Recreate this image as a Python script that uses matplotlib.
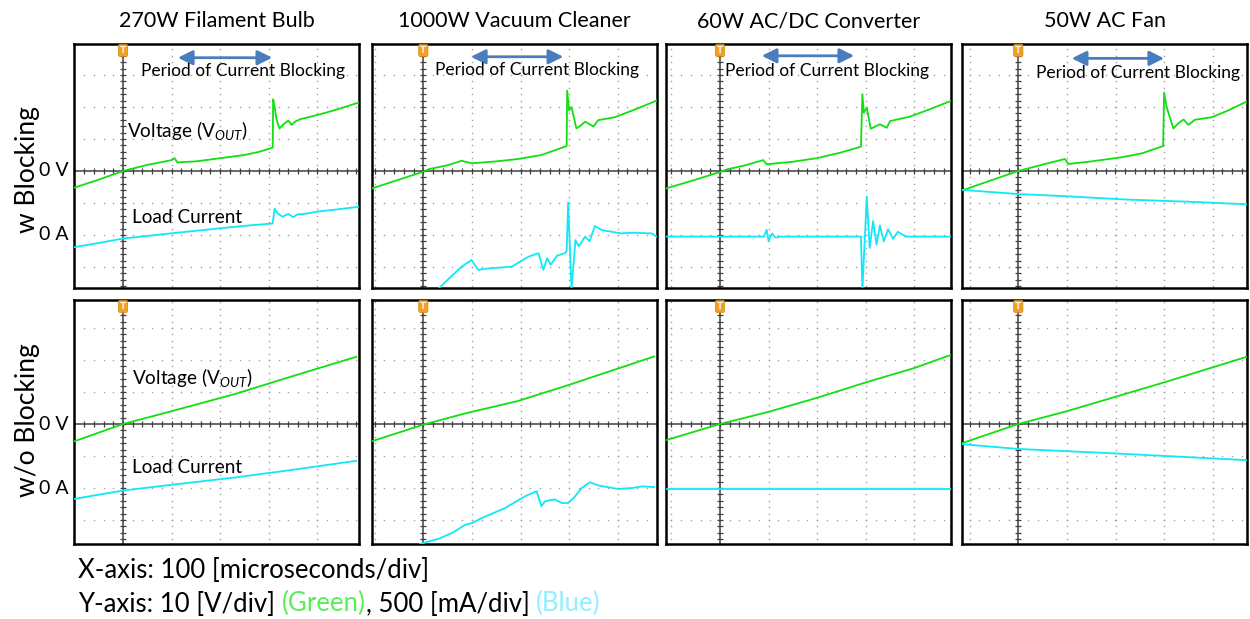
import numpy as np
import matplotlib
matplotlib.use("Agg")
import matplotlib.pyplot as plt
import matplotlib.transforms as mtransforms

plt.rcParams['font.family'] = ['Lato', 'DejaVu Sans']
plt.rcParams['mathtext.fontset'] = 'custom'
plt.rcParams['mathtext.rm'] = 'Lato'
plt.rcParams['mathtext.it'] = 'Lato:italic'

# === Scope captures, in divisions (x: 100 us/div, y: 10 V/div or 500 mA/div) ===
titles = ["270W Filament Bulb", "1000W Vacuum Cleaner", "60W AC/DC Converter", "50W AC Fan"]
row_labels = ["w Blocking", "w/o Blocking"]

# --- with blocking ---
bulb_w_vx = [-1.0, -0.5, 0.0, 0.5, 1.0, 1.06, 1.12, 1.5, 2.0, 2.5, 2.8, 3.08, 3.09, 3.12, 3.16, 3.22, 3.3, 3.4, 3.47, 3.55, 3.65, 4.0, 4.4, 4.85]
bulb_w_vy = [-0.52, -0.27, 0.0, 0.19, 0.34, 0.40, 0.27, 0.30, 0.40, 0.50, 0.60, 0.73, 2.24, 2.0, 1.6, 1.33, 1.45, 1.58, 1.44, 1.55, 1.62, 1.75, 1.92, 2.14]
bulb_w_ix = [-1.0, -0.5, 0.0, 0.5, 1.1, 1.5, 2.0, 2.6, 3.08, 3.12, 3.18, 3.28, 3.4, 3.5, 3.6, 3.7, 4.0, 4.4, 4.85]
bulb_w_iy = [-2.38, -2.25, -2.11, -2.03, -1.93, -1.87, -1.79, -1.70, -1.64, -1.18, -1.32, -1.43, -1.34, -1.44, -1.35, -1.35, -1.27, -1.20, -1.12]

vac_w_vx = [-1.05, -0.5, 0.0, 0.12, 0.5, 0.79, 0.99, 1.5, 1.95, 2.43, 2.95, 2.96, 3.0, 3.05, 3.15, 3.22, 3.33, 3.5, 3.6, 3.94, 4.4, 4.8]
vac_w_vy = [-0.54, -0.27, -0.02, 0.06, 0.18, 0.32, 0.24, 0.30, 0.375, 0.50, 0.78, 2.51, 1.9, 2.0, 1.33, 1.40, 1.54, 1.39, 1.59, 1.68, 1.95, 2.2]
vac_w_ix = [0.3, 0.5, 0.79, 0.99, 1.13, 1.3, 1.82, 2.16, 2.37, 2.47, 2.55, 2.62, 2.75, 2.91, 2.95, 2.98, 3.05, 3.13, 3.2, 3.33, 3.42, 3.53, 3.68, 3.88, 4.08, 4.3, 4.7, 4.8]
vac_w_iy = [-3.7, -3.4, -2.99, -2.78, -3.09, -3.05, -2.99, -2.68, -2.57, -3.09, -2.72, -2.93, -2.65, -2.57, -2.5, -0.99, -3.7, -2.16, -2.35, -2.05, -2.2, -1.72, -1.85, -1.9, -1.95, -1.93, -1.95, -2.05]

conv_w_vx = [-1.1, -0.5, 0.0, 0.14, 0.5, 0.89, 0.96, 1.5, 1.99, 2.47, 2.9, 2.93, 2.96, 3.02, 3.1, 3.29, 3.43, 3.5, 3.91, 4.3, 4.75]
conv_w_vy = [-0.54, -0.27, -0.03, 0.05, 0.17, 0.34, 0.21, 0.29, 0.40, 0.57, 0.76, 2.4, 1.82, 1.98, 1.32, 1.46, 1.35, 1.56, 1.70, 1.92, 2.19]
conv_w_ix = [-1.1, 0.9, 0.96, 1.0, 1.07, 1.14, 1.25, 2.9, 2.93, 3.02, 3.08, 3.15, 3.22, 3.29, 3.37, 3.46, 3.56, 3.66, 3.82, 4.75]
conv_w_iy = [-2.05, -2.05, -1.84, -2.19, -1.95, -2.08, -2.05, -2.05, -3.7, -0.80, -2.4, -1.56, -2.3, -1.7, -2.2, -1.82, -2.12, -1.9, -2.05, -2.05]

fan_w_vx = [-1.16, -0.5, 0.0, 0.5, 0.96, 1.03, 1.5, 2.13, 2.54, 2.98, 3.0, 3.05, 3.19, 3.3, 3.4, 3.5, 3.63, 3.98, 4.3, 4.7]
fan_w_vy = [-0.61, -0.26, 0.0, 0.2, 0.375, 0.22, 0.30, 0.43, 0.55, 0.78, 2.45, 2.01, 1.33, 1.5, 1.61, 1.44, 1.6, 1.68, 1.88, 2.17]
fan_w_ix = [-1.16, 0.0, 1.0, 2.19, 3.5, 4.7]
fan_w_iy = [-0.59, -0.72, -0.79, -0.89, -0.96, -1.04]

# --- without blocking ---
bulb_wo_vx = [-1.0, -0.5, 0.0, 1.0, 2.31, 3.5, 4.8]
bulb_wo_vy = [-0.54, -0.27, 0.0, 0.40, 0.94, 1.5, 2.1]
bulb_wo_ix = [-1.0, 0.0, 1.0, 2.31, 3.5, 4.8]
bulb_wo_iy = [-2.34, -2.08, -1.90, -1.67, -1.43, -1.15]

vac_wo_vx = [-1.06, 0.0, 0.86, 1.95, 2.91, 3.94, 4.75]
vac_wo_vy = [-0.54, -0.02, 0.33, 0.72, 1.18, 1.70, 2.11]
vac_wo_ix = [-0.07, 0.31, 0.6, 0.86, 1.0, 1.2, 1.68, 2.09, 2.33, 2.43, 2.5, 2.6, 2.71, 2.85, 2.98, 3.1, 3.26, 3.43, 3.6, 4.01, 4.3, 4.5, 4.75]
vac_wo_iy = [-3.75, -3.59, -3.4, -3.15, -3.1, -2.94, -2.63, -2.26, -2.10, -2.57, -2.42, -2.38, -2.36, -2.47, -2.47, -2.3, -2.0, -1.82, -1.92, -2.03, -2.0, -1.95, -1.97]

conv_wo_vx = [-1.1, 0.0, 1.0, 2.0, 3.0, 4.0, 4.75]
conv_wo_vy = [-0.5, 0.0, 0.38, 0.82, 1.3, 1.75, 2.16]
conv_wo_ix = [-1.1, 4.75]
conv_wo_iy = [-2.03, -2.03]

fan_wo_vx = [-1.16, 0.0, 1.0, 2.0, 3.0, 4.7]
fan_wo_vy = [-0.6, 0.0, 0.4, 0.85, 1.3, 2.1]
fan_wo_ix = [-1.16, 0.0, 2.0, 4.7]
fan_wo_iy = [-0.63, -0.78, -0.92, -1.13]

traces = [
    [(bulb_w_vx, bulb_w_vy, bulb_w_ix, bulb_w_iy),
     (vac_w_vx, vac_w_vy, vac_w_ix, vac_w_iy),
     (conv_w_vx, conv_w_vy, conv_w_ix, conv_w_iy),
     (fan_w_vx, fan_w_vy, fan_w_ix, fan_w_iy)],
    [(bulb_wo_vx, bulb_wo_vy, bulb_wo_ix, bulb_wo_iy),
     (vac_wo_vx, vac_wo_vy, vac_wo_ix, vac_wo_iy),
     (conv_wo_vx, conv_wo_vy, conv_wo_ix, conv_wo_iy),
     (fan_wo_vx, fan_wo_vy, fan_wo_ix, fan_wo_iy)],
]

# blocking window arrow (x0, x1, y) and label position (x, y) per column
arrow_pos = [(1.13, 3.07, 3.54), (0.98, 2.88, 3.57), (0.86, 2.76, 3.60), (1.10, 3.00, 3.52)]
period_pos = [(0.38, 3.12), (0.24, 3.16), (0.10, 3.13), (0.36, 3.07)]

# === Layout (pixels) ===
W, H = 1250, 619
col_left = [74, 372, 666, 962]
col_zero = [123, 423.3, 720, 1018.3]
row_top = [44, 300]
row_zero = [171, 424]
pw, ph = 285, 244
px_per_div_x, px_per_div_y = 48.6, 32.0

green = '#10e010'
cyan = '#10e8f8'

fig = plt.figure(figsize=(W / 100, H / 100), dpi=100)

for r in range(2):
    for c in range(4):
        left = col_left[c]
        top = row_top[r]
        ax = fig.add_axes([left / W, 1 - (top + ph) / H, pw / W, ph / H])
        x0 = -(col_zero[c] - left) / px_per_div_x
        x1 = x0 + pw / px_per_div_x
        y1 = (row_zero[r] - top) / px_per_div_y
        y0 = y1 - ph / px_per_div_y
        ax.set_xlim(x0, x1)
        ax.set_ylim(y0, y1)
        ax.set_xticks([])
        ax.set_yticks([])
        for s in ax.spines.values():
            s.set_linewidth(1.8)
            s.set_color('black')

        # dotted graticule
        minor_x = np.arange(np.ceil(x0 / 0.2) * 0.2, x1, 0.2)
        minor_y = np.arange(np.ceil(y0 / 0.2) * 0.2, y1, 0.2)
        for gx in range(int(np.ceil(x0)), int(np.floor(x1)) + 1):
            if gx != 0:
                ax.plot(np.full_like(minor_y, gx), minor_y, ls='none', marker='s',
                        ms=1.0, color='#a0a0a0', mec='none', zorder=1)
        for gy in range(int(np.ceil(y0)), int(np.floor(y1)) + 1):
            if gy != 0:
                ax.plot(minor_x, np.full_like(minor_x, gy), ls='none', marker='s',
                        ms=1.0, color='#a0a0a0', mec='none', zorder=1)

        # centre crosshair with minor ticks
        ax.axhline(0, color='#404040', lw=1.1, zorder=2)
        ax.axvline(0, color='#404040', lw=1.1, zorder=2)
        ax.plot(minor_x, np.zeros_like(minor_x), ls='none', marker='|', ms=5,
                mew=0.9, color='#404040', zorder=2)
        ax.plot(np.zeros_like(minor_y), minor_y, ls='none', marker='_', ms=5,
                mew=0.9, color='#404040', zorder=2)

        vx, vy, ix, iy = traces[r][c]
        ax.plot(vx, vy, color=green, lw=1.3, zorder=3)
        ax.plot(ix, iy, color=cyan, lw=1.3, zorder=3)

        # trigger marker
        ax.text(0, y1 - 0.06, 'T', ha='center', va='top', fontsize=7.5, color='white',
                fontweight='bold', zorder=5,
                bbox=dict(boxstyle='round,pad=0.15', fc='#f0a028', ec='#d88a10', lw=0.5))

        if r == 0:
            ax.set_title(titles[c], fontsize=15.5, pad=12)
            ax0, ax1, ay = arrow_pos[c]
            ax.annotate('', xy=(ax1, ay), xytext=(ax0, ay),
                        arrowprops=dict(arrowstyle='<|-|>', color='#4a7dbd', lw=2,
                                        mutation_scale=22, shrinkA=0, shrinkB=0))
            tx, ty = period_pos[c]
            ax.text(tx, ty, 'Period of Current Blocking', fontsize=12.5, ha='left',
                    va='center', zorder=6)

        if c == 0:
            trans = mtransforms.blended_transform_factory(ax.transAxes, ax.transData)
            ax.text(-0.02, 0, '0 V', transform=trans, ha='right', va='center', fontsize=14)
            ax.text(-0.02, -2, '0 A', transform=trans, ha='right', va='center', fontsize=14)
            vlab_y = 1.25 if r == 0 else 1.44
            ilab_y = -1.46 if r == 0 else -1.35
            vlab_x = 0.08 if r == 0 else 0.18
            ilab_x = 0.18
            ax.text(vlab_x, vlab_y, r'Voltage (V$_{\mathit{OUT}}$)', fontsize=13.7,
                    ha='left', va='center', zorder=6)
            ax.text(ilab_x, ilab_y, 'Load Current', fontsize=13.7, ha='left',
                    va='center', zorder=6)

# row labels
fig.text(28 / W, 1 - 170 / H, row_labels[0], rotation=90, ha='center', va='center', fontsize=19)
fig.text(28 / W, 1 - 420 / H, row_labels[1], rotation=90, ha='center', va='center', fontsize=19)

# axis scale notes, second line in coloured pieces
fig.text(78 / W, 1 - 571 / H, 'X-axis: 100 [microseconds/div]', ha='left', va='center', fontsize=18.5)
parts = [('Y-axis: 10 [V/div] ', 'black'), ('(Green)', '#58ee58'),
         (', 500 [mA/div] ', 'black'), ('(Blue)', '#90f0ff')]
prev = fig.text(78 / W, 1 - 604 / H, parts[0][0], ha='left', va='center',
                fontsize=18.5, color=parts[0][1])
for txt, col in parts[1:]:
    prev = fig.add_artist(plt.Annotation(txt, xy=(1, 0), xycoords=prev, va='bottom',
                                         ha='left', fontsize=18.5, color=col,
                                         annotation_clip=False))

fig.savefig('out.png', dpi=100)
